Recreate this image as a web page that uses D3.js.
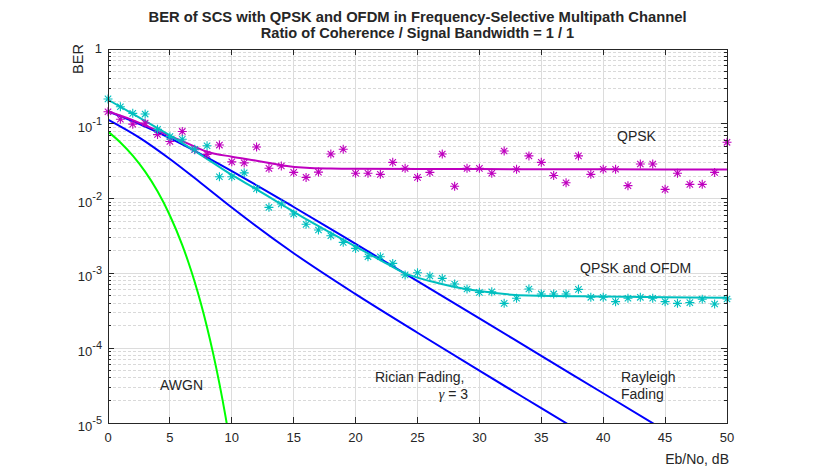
<!DOCTYPE html>
<html><head><meta charset="utf-8">
<script src="https://cdn.jsdelivr.net/npm/d3@7"></script>
<style>body{margin:0;background:#fff}svg text{font-family:"Liberation Sans",Arial,Helvetica,sans-serif;fill:#262626}</style>
</head><body><svg id="c" width="823" height="475"></svg>
<script>
// ---------- data ----------
const titleLines = ["BER of SCS with QPSK and OFDM in Frequency-Selective Multipath Channel",
                    "Ratio of Coherence / Signal Bandwidth = 1 / 1"];
const xTicks = [0,5,10,15,20,25,30,35,40,45,50];
const yTickExp = [0,-1,-2,-3,-4,-5];

// simulated points, Eb/No 0..50 dB
const simEbNo = [0,1,2,3,4,5,6,7,8,9,10,11,12,13,14,15,16,17,18,19,20,21,22,23,24,25,26,27,28,29,30,31,32,33,34,35,36,37,38,39,40,41,42,43,44,45,46,47,48,49,50];
const qpskSim = [0.145,0.115,0.099,0.102,0.072,0.058,0.079,0.045,0.039,0.052,0.031,0.030,0.049,0.0254,0.0273,0.0224,0.0192,0.0226,0.0394,0.0457,
  0.0218,0.0218,0.0211,0.0305,0.0254,0.0192,0.0224,0.0394,0.0146,0.0254,0.0254,0.0218,0.0433,0.0247,0.0372,0.0305,0.0204,0.0163,0.0372,0.0211,
  0.0247,0.0247,0.0149,0.0290,0.0290,0.0133,0.0218,0.0155,0.0155,0.0224,0.0566];
const ofdmSim = [0.215,0.169,0.138,0.135,0.0843,0.0673,0.0621,0.0457,0.0509,0.0196,0.0196,0.0221,0.01355,0.00764,0.00847,0.00622,0.00453,0.0038,0.00319,0.0026,
  0.00216,0.00167,0.00167,0.00136,0.000955,0.00102,0.000923,0.000859,0.000721,0.000618,0.000558,0.000569,0.000398,0.000465,0.000618,0.000531,0.000531,0.000531,0.000612,0.000479,
  0.000479,0.000419,0.000465,0.000479,0.000465,0.000419,0.000398,0.000407,0.000451,0.00039,0.000455];

// fitted curves
const qpskFitX = [0,2,4,6,8,10,12,14,16,18,20,30,40,50];
const qpskFitY = [0.146,0.112,0.081,0.0588,0.0424,0.0363,0.0321,0.028,0.0258,0.0252,0.0250,0.0248,0.0246,0.0245];
const ofdmFitX = [0,2.5,5,7.5,10,12,14,16,18,20,22,24,26,28,30,34,40,45,50];
const ofdmFitY = [0.21,0.122,0.0700,0.0385,0.0207,0.0133,0.0084,0.0053,0.00347,0.00228,0.00151,0.00100,0.00079,0.00066,0.00058,0.000505,0.00049,0.00048,0.000473];

// theoretical curves
const awgnX = [0,1,2,3,4,5,6,6.5,7,7.5,8,8.5,9,9.5,10];
const awgnY = [0.0786,0.0563,0.0375,0.0229,0.0125,0.00595,0.00239,0.00140,0.000773,0.000399,0.000191,0.000084,0.0000336,0.0000121,0.00000387];
const rayX = [0,2.5,5,7.5,10,12.5,15,17.5,20,25,30,35,40,45];
const rayY = [0.1464,0.1,0.0642,0.0393,0.0233,0.0135,0.00772,0.00439,0.00248,0.000789,0.00025,0.000079,0.000025,0.0000079];
const ricX = [0,2.5,5,7.5,10,15,20,25,30,35,40];
const ricY = [0.114,0.066,0.0339,0.0162,0.0076,0.00186,0.000528,0.000161,0.00005,0.0000158,0.000005];

// ---------- layout ----------
const svg = d3.select("#c");
const L=108, R=727, T=49, B=423;
const x = d3.scaleLinear().domain([0,50]).range([L,R]);
const y = d3.scaleLog().domain([1e-5,1]).range([B,T]);
const ink = "#262626";

// grid
const g = svg.append("g");
const minorVals = [];
yTickExp.slice(1).forEach(e=>{ for(let k=2;k<=9;k++) minorVals.push(k*Math.pow(10,e)); });
g.selectAll(".ymin").data(minorVals).join("line")
  .attr("x1",L).attr("x2",R).attr("y1",d=>y(d)).attr("y2",d=>y(d))
  .attr("stroke","#d9d9d9").attr("stroke-width",1).attr("stroke-dasharray","3,2").attr("shape-rendering","crispEdges");
g.selectAll(".ymaj").data(yTickExp.slice(1,-1)).join("line")
  .attr("x1",L).attr("x2",R).attr("y1",d=>y(Math.pow(10,d))).attr("y2",d=>y(Math.pow(10,d)))
  .attr("stroke","#dcdcdc").attr("stroke-width",1).attr("shape-rendering","crispEdges");
g.selectAll(".xmaj").data(xTicks.slice(1,-1)).join("line")
  .attr("x1",d=>x(d)).attr("x2",d=>x(d)).attr("y1",T).attr("y2",B)
  .attr("stroke","#dcdcdc").attr("stroke-width",1).attr("shape-rendering","crispEdges");

// clip for curves
svg.append("defs").append("clipPath").attr("id","clip").append("rect")
  .attr("x",L).attr("y",T).attr("width",R-L).attr("height",B-T);

const line = d3.line().x(d=>x(d[0])).y(d=>y(d[1])).curve(d3.curveMonotoneX);
const zip = (a,b)=>a.map((v,i)=>[v,b[i]]);
const curves = svg.append("g").attr("clip-path","url(#clip)");
function curve(xs,ys,col){
  curves.append("path").attr("d",line(zip(xs,ys))).attr("fill","none")
    .attr("stroke",col).attr("stroke-width",2).attr("stroke-linejoin","round");
}
curve(awgnX,awgnY,"#00ff00");
curve(ricX,ricY,"#0000ff");
curve(rayX,rayY,"#0000ff");
curve(qpskFitX,qpskFitY,"#bf00bf");
curve(ofdmFitX,ofdmFitY,"#00bfbf");

// asterisk markers
function stars(xs,ys,col){
  const s=4.5, d2=3.2;
  const gg = svg.append("g").attr("stroke",col).attr("stroke-width",1.1).attr("fill","none");
  gg.selectAll("path").data(zip(xs,ys)).join("path")
    .attr("d",d=>{const cx=x(d[0]),cy=y(d[1]);
      return `M${cx-s},${cy}H${cx+s}M${cx},${cy-s}V${cy+s}M${cx-d2},${cy-d2}L${cx+d2},${cy+d2}M${cx-d2},${cy+d2}L${cx+d2},${cy-d2}`;});
}
stars(simEbNo,qpskSim,"#bf00bf");
stars(simEbNo,ofdmSim,"#00bfbf");

// box and ticks
const ax = svg.append("g").attr("stroke",ink).attr("stroke-width",1).attr("shape-rendering","crispEdges");
ax.append("rect").attr("x",L).attr("y",T).attr("width",R-L).attr("height",B-T).attr("fill","none");
xTicks.forEach(t=>{
  ax.append("line").attr("x1",x(t)).attr("x2",x(t)).attr("y1",B).attr("y2",B-6);
  ax.append("line").attr("x1",x(t)).attr("x2",x(t)).attr("y1",T).attr("y2",T+6);
});
yTickExp.forEach(e=>{
  const yy=y(Math.pow(10,e));
  ax.append("line").attr("x1",L).attr("x2",L+6).attr("y1",yy).attr("y2",yy);
  ax.append("line").attr("x1",R).attr("x2",R-6).attr("y1",yy).attr("y2",yy);
});
minorVals.forEach(v=>{
  const yy=y(v);
  ax.append("line").attr("x1",L).attr("x2",L+3).attr("y1",yy).attr("y2",yy);
  ax.append("line").attr("x1",R).attr("x2",R-3).attr("y1",yy).attr("y2",yy);
});

// tick labels
svg.selectAll(".xl").data(xTicks).join("text")
  .attr("x",d=>x(d)).attr("y",B+19).attr("text-anchor","middle").attr("font-size",13).text(d=>d);
yTickExp.forEach(e=>{
  const yy=y(Math.pow(10,e));
  if(e===0){
    svg.append("text").attr("x",L-6).attr("y",yy+4).attr("text-anchor","end").attr("font-size",13).text("1");
  } else {
    const t=svg.append("text").attr("x",L-6).attr("y",yy+8).attr("text-anchor","end").attr("font-size",13);
    t.append("tspan").text("10");
    t.append("tspan").attr("dy",-7).attr("font-size",11).text(String(e));
  }
});

// axis labels
svg.append("text").attr("transform","translate(83,59) rotate(-90)").attr("text-anchor","middle")
  .attr("font-size",14.5).text("BER");
svg.append("text").attr("x",729).attr("y",464).attr("text-anchor","end").attr("font-size",14).text("Eb/No, dB");

// title
svg.append("text").attr("x",(L+R)/2).attr("y",22).attr("text-anchor","middle").attr("font-size",14.6)
  .attr("font-weight","bold").attr("textLength",538).attr("lengthAdjust","spacingAndGlyphs").text(titleLines[0]);
svg.append("text").attr("x",(L+R)/2).attr("y",38).attr("text-anchor","middle").attr("font-size",14.6)
  .attr("font-weight","bold").text(titleLines[1]);

// annotations
const ann = (tx,ty,s,anchor)=>svg.append("text").attr("x",tx).attr("y",ty).attr("font-size",14)
  .attr("text-anchor",anchor||"start").text(s);
ann(617,141,"QPSK");
ann(580,273,"QPSK and OFDM");
ann(160,390,"AWGN");
ann(375,382,"Rician Fading,");
const gt = svg.append("text").attr("x",468).attr("y",399).attr("font-size",14).attr("text-anchor","end");
gt.append("tspan").attr("font-family","Liberation Serif, Times New Roman, serif").attr("font-style","italic").text("γ");
gt.append("tspan").text(" = 3");
ann(621,382,"Rayleigh");
ann(621,399,"Fading");
</script></body></html>
